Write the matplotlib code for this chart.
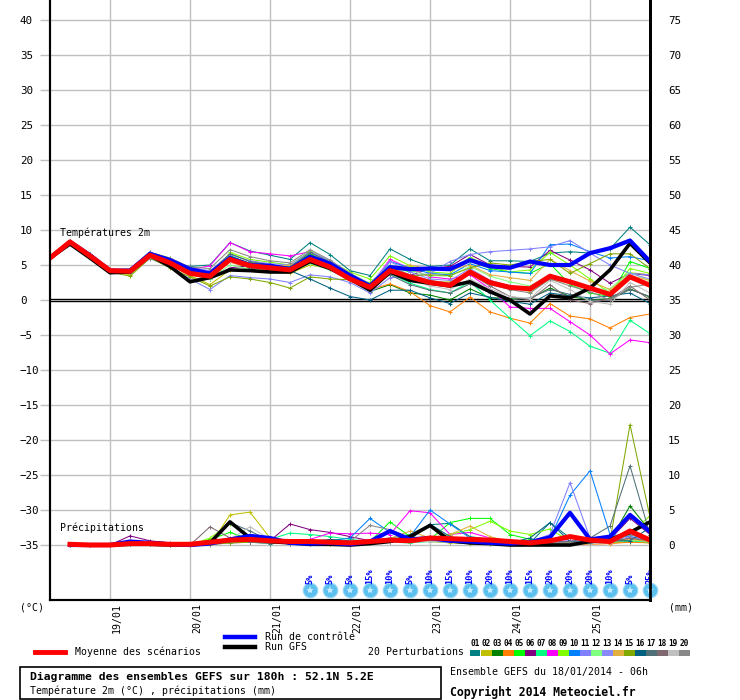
import numpy as np
import matplotlib
matplotlib.use('Agg')
import matplotlib.pyplot as plt
from matplotlib.patches import Rectangle
from matplotlib.lines import Line2D

# ---------------- data ----------------
day_labels = ["19/01", "20/01", "21/01", "22/01", "23/01", "24/01", "25/01"]
day_steps = [3, 7, 11, 15, 19, 23, 27]
steps = list(range(31))            # 6-hourly steps from 18/01 06h (180h)

mean_t = [6.0, 8.3, 6.3, 4.2, 4.1, 6.4, 5.3, 3.8, 3.4, 5.8, 4.9, 4.6, 4.3, 5.8, 4.7, 3.0,
          1.8, 4.2, 3.3, 2.5, 2.1, 4.0, 2.5, 1.8, 1.6, 3.4, 2.6, 1.7, 0.8, 3.3, 2.1]
ctrl_t = [6.0, 8.3, 6.4, 4.2, 4.2, 6.6, 5.7, 4.4, 3.8, 6.0, 5.0, 4.9, 4.4, 6.2, 5.2, 3.5,
          2.0, 4.7, 4.4, 4.5, 4.4, 5.7, 4.8, 4.6, 5.5, 5.0, 5.0, 6.7, 7.4, 8.5, 5.5]
gfs_t = [6.0, 8.0, 6.0, 3.9, 4.0, 6.4, 4.8, 2.6, 3.2, 4.3, 4.2, 4.0, 4.0, 5.5, 4.5, 3.0,
         1.4, 4.0, 2.8, 2.4, 2.0, 2.6, 1.2, 0.0, -2.0, 0.6, 0.3, 1.7, 4.3, 8.1, 5.3]

pert_colors = ["#008080", "#c0c000", "#008000", "#ff8000", "#00ff00", "#800080", "#00ff80",
               "#ff00ff", "#80ff00", "#0080ff", "#8080ff", "#80ff80", "#8888ff", "#e0b040",
               "#80a800", "#006080", "#507078", "#806870", "#c0c0c0", "#888888"]
pert_names = ["01", "02", "03", "04", "05", "06", "07", "08", "09", "10",
              "11", "12", "13", "14", "15", "16", "17", "18", "19", "20"]

p01_t = [6.0, 8.4, 6.6, 4.3, 4.4, 6.9, 5.3, 4.8, 5.0, 8.2, 7.0, 6.4, 5.8, 8.2, 6.5, 4.2, 3.5, 7.3, 5.8, 4.8, 5.0, 7.3, 5.6, 5.6, 5.5, 6.7, 6.9, 6.7, 7.3, 10.4, 7.9]
p02_t = [6.0, 8.2, 6.2, 4.1, 3.6, 6.2, 5.0, 3.5, 2.2, 4.3, 4.4, 4.0, 3.8, 5.0, 4.5, 3.2, 2.0, 3.8, 3.0, 2.5, 2.6, 3.9, 2.4, 1.8, 1.2, 3.0, 2.4, 1.7, 1.0, 3.9, 3.6]
p03_t = [6.0, 8.3, 6.5, 4.2, 4.3, 6.6, 5.8, 4.3, 3.8, 6.3, 5.2, 4.8, 4.5, 6.6, 5.0, 3.5, 1.2, 2.2, 1.0, 0.7, 0.0, 1.6, 0.3, 0.3, 0.2, 1.7, 0.5, 0.0, 0.2, 1.6, 0.4]
p04_t = [6.0, 8.3, 6.4, 4.2, 4.2, 6.5, 5.2, 3.9, 3.4, 5.4, 4.6, 4.3, 4.0, 5.3, 4.5, 3.0, 1.5, 2.3, 1.2, -0.8, -1.7, 0.4, -1.7, -2.6, -3.3, -0.5, -2.3, -2.7, -4.0, -2.5, -2.0]
p05_t = [6.0, 8.3, 6.4, 4.3, 4.2, 6.7, 5.6, 4.2, 3.8, 6.6, 5.5, 5.0, 4.8, 6.6, 5.2, 3.8, 2.3, 4.8, 4.0, 4.3, 4.4, 5.6, 4.5, 4.0, 3.8, 5.2, 2.2, 1.0, 0.5, 5.5, 4.5]
p06_t = [6.0, 8.3, 6.3, 4.2, 4.1, 6.3, 5.5, 3.8, 3.0, 4.6, 4.9, 4.6, 4.3, 5.8, 4.6, 3.2, 2.0, 4.5, 3.5, 4.5, 4.8, 6.5, 5.0, 4.8, 4.7, 7.1, 5.7, 4.3, 2.4, 3.8, 3.5]
p07_t = [6.0, 8.3, 6.3, 4.1, 4.1, 6.4, 5.5, 4.0, 3.8, 6.4, 5.0, 4.7, 4.4, 6.2, 4.6, 3.0, 1.5, 3.8, 2.4, 1.5, 1.0, 2.6, 0.0, -2.6, -5.1, -3.0, -4.5, -6.6, -7.6, -2.9, -4.8]
p08_t = [6.0, 8.3, 6.4, 4.2, 4.2, 6.6, 5.5, 4.3, 4.9, 8.2, 6.9, 6.6, 6.3, 6.9, 5.3, 3.3, 2.0, 5.8, 4.5, 3.3, 3.0, 3.6, 1.6, -1.0, -1.2, -1.2, -3.1, -5.0, -7.7, -5.7, -6.1]
p09_t = [6.0, 8.2, 6.3, 4.1, 4.0, 6.8, 6.0, 4.2, 3.2, 6.8, 5.8, 5.4, 5.0, 7.0, 5.5, 4.0, 3.0, 6.3, 4.9, 4.0, 3.8, 6.1, 4.8, 4.0, 4.3, 6.8, 5.0, 3.0, 1.0, 4.5, 3.8]
p10_t = [6.0, 8.3, 6.4, 4.2, 4.1, 6.6, 5.4, 4.4, 3.9, 6.0, 5.0, 4.8, 4.8, 6.3, 5.0, 3.4, 1.8, 5.5, 4.6, 3.8, 3.6, 5.2, 4.2, 4.0, 3.8, 7.9, 8.0, 6.9, 6.0, 6.2, 5.6]
p11_t = [6.0, 8.3, 6.2, 4.0, 3.8, 5.9, 4.8, 3.0, 1.5, 3.5, 3.2, 3.0, 2.5, 3.6, 3.3, 2.5, 1.0, 3.2, 3.3, 3.8, 5.5, 6.5, 6.9, 7.1, 7.3, 7.6, 8.5, 6.7, 5.0, 3.8, 3.6]
p12_t = [6.0, 8.3, 6.2, 4.0, 4.0, 6.2, 5.2, 3.6, 3.0, 5.0, 4.4, 4.2, 4.0, 5.2, 4.3, 3.3, 2.5, 5.0, 4.2, 3.5, 3.4, 4.8, 3.4, 2.6, 2.0, 3.6, 2.5, 1.5, 1.6, 4.0, 2.7]
p13_t = [6.0, 8.4, 6.5, 4.3, 4.3, 6.8, 5.9, 4.6, 4.2, 6.5, 5.6, 5.2, 5.0, 6.9, 5.6, 3.8, 2.3, 5.5, 4.0, 3.0, 2.8, 4.5, 2.8, 2.0, 1.5, 3.5, 2.8, 1.5, 0.8, 3.8, 3.0]
p14_t = [6.0, 8.3, 6.4, 4.2, 4.1, 6.4, 5.4, 4.0, 3.6, 5.6, 4.8, 4.8, 5.0, 5.8, 5.0, 3.6, 1.9, 4.3, 5.0, 4.4, 4.3, 5.0, 3.6, 3.2, 2.8, 5.8, 4.2, 2.7, 1.5, 3.5, 2.8]
p15_t = [6.0, 8.1, 6.1, 4.0, 3.4, 6.0, 4.6, 3.3, 2.0, 3.3, 3.0, 2.5, 1.7, 3.3, 3.0, 2.9, 2.4, 4.7, 3.5, 3.6, 3.5, 4.6, 5.3, 5.0, 5.5, 5.8, 3.8, 5.2, 6.6, 6.6, 4.5]
p16_t = [6.0, 8.3, 6.4, 4.2, 4.1, 6.3, 5.3, 4.0, 3.6, 5.6, 4.6, 4.4, 4.2, 3.0, 1.7, 0.5, 0.0, 1.4, 1.4, 0.3, -0.5, 1.0, 0.4, -0.2, -0.6, 1.0, 0.6, 0.3, 0.6, 1.0, -0.5]
p17_t = [6.0, 8.3, 6.4, 4.2, 4.1, 6.7, 5.8, 4.4, 4.0, 6.6, 5.5, 5.0, 4.7, 6.8, 5.4, 3.5, 1.6, 3.6, 2.2, 1.4, 1.0, 2.3, 1.0, 0.0, 0.3, 1.5, 0.8, 0.0, 0.0, 1.5, 0.5]
p18_t = [6.0, 8.3, 6.4, 4.2, 4.2, 6.5, 5.5, 4.1, 3.6, 5.9, 5.0, 4.8, 4.5, 6.2, 4.9, 3.3, 1.7, 4.2, 3.2, 2.5, 2.0, 3.8, 2.0, 0.5, 0.0, 2.2, 0.0, -0.5, 0.2, 2.0, 0.0]
p19_t = [6.0, 8.3, 6.4, 4.2, 4.1, 6.3, 5.2, 3.8, 3.4, 5.5, 4.7, 4.5, 4.3, 5.4, 4.5, 3.2, 2.1, 4.1, 3.0, 2.0, 1.5, 3.0, 1.6, 0.5, 0.2, 2.8, 1.5, -0.2, -0.6, 2.5, 1.0]
p20_t = [6.0, 8.4, 6.6, 4.3, 4.4, 6.8, 6.0, 4.7, 4.5, 7.2, 6.2, 5.6, 5.3, 7.2, 5.7, 3.8, 2.2, 4.8, 3.6, 2.8, 2.4, 4.2, 2.2, 1.5, 1.0, 3.0, 2.0, 1.2, 0.0, 1.8, 2.3]

# precipitation (mm per 6h), steps 1..30
mean_p = [0.1, 0.0, 0.0, 0.2, 0.2, 0.1, 0.1, 0.4, 0.7, 0.8, 0.6, 0.5, 0.5, 0.4, 0.3, 0.5, 0.7, 0.6, 1.0, 0.9, 0.8, 0.7, 0.5, 0.3, 0.6, 1.2, 0.7, 0.5, 2.0, 0.7]
ctrl_p = [0.0, 0.0, 0.0, 0.5, 0.3, 0.1, 0.0, 0.2, 0.8, 1.3, 1.0, 0.3, 0.2, 0.3, 0.1, 0.5, 2.0, 0.8, 1.0, 0.6, 0.5, 0.3, 0.2, 0.4, 1.1, 4.6, 0.8, 1.2, 4.3, 1.9]
gfs_p = [0.0, 0.0, 0.0, 0.1, 0.1, 0.0, 0.0, 0.3, 3.3, 1.0, 0.5, 0.3, 0.1, 0.1, 0.0, 0.2, 0.5, 1.2, 2.8, 0.6, 0.3, 0.2, 0.0, 0.0, 0.0, 0.0, 0.5, 0.8, 1.8, 3.3]

p01_p = [0, 0, 0, 0.3, 0.2, 0, 0, 0.3, 0.6, 0.4, 0.2, 0.3, 0.5, 0.6, 0.3, 0.5, 1.0, 1.5, 2.9, 3.1, 1.2, 0.8, 0.6, 0.3, 3.2, 1.0, 0.6, 0.5, 0.8, 0.6]
p02_p = [0, 0, 0, 0.5, 0.3, 0, 0, 0, 4.3, 4.7, 1.0, 0.3, 0.3, 0.2, 0.1, 0.3, 0.8, 0.6, 0.5, 0.3, 0.2, 0.1, 0.1, 0.1, 0.2, 0.3, 0.2, 0.3, 0.5, 0.3]
p03_p = [0, 0, 0, 0.2, 0.1, 0, 0, 0.2, 0.5, 0.8, 0.6, 0.4, 0.3, 0.2, 0.2, 0.4, 0.6, 0.4, 0.7, 0.5, 0.5, 0.4, 0.3, 0.2, 0.4, 0.5, 0.3, 0.6, 5.6, 2.0]
p04_p = [0, 0, 0, 0.1, 0.1, 0, 0, 0.1, 0.3, 0.5, 0.3, 0.2, 0.2, 0.2, 0.1, 0.3, 0.6, 0.8, 0.6, 0.4, 0.5, 0.3, 0.2, 0.1, 0.3, 0.2, 0.1, 0.2, 0.4, 0.3]
p05_p = [0, 0, 0, 0.2, 0.2, 0, 0, 0.8, 1.8, 0.8, 0.4, 0.3, 0.2, 0.2, 0.3, 0.5, 3.3, 1.2, 0.8, 3.2, 3.8, 3.8, 1.5, 0.8, 0.6, 0.4, 0.3, 0.5, 0.9, 0.6]
p06_p = [0, 0, 0, 1.3, 0.6, 0.3, 0, 0.2, 0.4, 0.5, 0.6, 3.0, 2.2, 1.8, 1.2, 0.6, 0.4, 0.5, 1.2, 0.8, 0.6, 0.4, 0.2, 0.2, 0.3, 0.5, 0.4, 0.8, 3.8, 1.5]
p07_p = [0, 0, 0, 0.2, 0.1, 0.2, 0, 0.1, 0.3, 0.6, 0.8, 1.7, 1.5, 1.2, 0.8, 0.5, 0.4, 0.3, 0.5, 0.4, 0.6, 0.4, 0.3, 0.2, 0.4, 0.3, 0.2, 0.4, 0.6, 0.4]
p08_p = [0, 0, 0, 0.1, 0.1, 0, 0, 0.1, 0.3, 0.4, 0.3, 0.3, 0.8, 1.7, 1.6, 1.7, 1.5, 4.9, 4.6, 1.5, 1.8, 1.0, 0.6, 0.3, 0.4, 0.6, 0.3, 0.4, 0.8, 0.5]
p09_p = [0, 0, 0, 0.1, 0.1, 0, 0, 1.0, 3.0, 1.2, 0.6, 0.3, 0.2, 0.3, 0.2, 0.4, 0.8, 0.6, 1.0, 1.5, 2.2, 3.4, 2.0, 1.5, 2.3, 0.5, 0.4, 0.6, 1.5, 4.2]
p10_p = [0, 0, 0, 0.3, 0.2, 0, 0, 0.1, 0.5, 0.6, 0.4, 0.2, 0.2, 0.6, 1.0, 3.8, 1.8, 1.2, 5.0, 3.0, 1.0, 0.6, 0.4, 0.5, 1.0, 7.1, 10.6, 1.5, 1.2, 0.8]
p11_p = [0, 0, 0, 0.1, 0.1, 0, 0, 0.1, 0.4, 0.5, 0.3, 0.2, 0.3, 0.4, 0.3, 0.5, 0.8, 0.5, 0.6, 0.4, 0.3, 0.3, 0.4, 0.5, 1.5, 8.9, 1.0, 0.5, 1.6, 0.6]
p12_p = [0, 0, 0, 0.2, 0.1, 0, 0, 0.1, 0.3, 0.4, 0.3, 0.2, 0.2, 0.3, 0.2, 0.3, 0.5, 0.4, 0.7, 0.5, 0.4, 0.3, 0.2, 0.2, 0.3, 0.3, 0.2, 0.4, 0.7, 0.5]
p13_p = [0, 0, 0, 0.2, 0.1, 0, 0, 0.1, 0.5, 0.7, 0.4, 0.2, 0.2, 0.3, 0.2, 0.3, 0.6, 0.5, 0.8, 0.6, 0.5, 0.4, 0.3, 0.2, 0.4, 0.6, 0.3, 0.5, 1.2, 0.6]
p14_p = [0, 0, 0, 0.6, 0.3, 0, 0, 0.1, 0.6, 0.8, 0.5, 0.4, 0.3, 0.3, 0.2, 0.4, 0.9, 2.0, 1.0, 1.5, 2.7, 1.2, 0.5, 0.3, 0.4, 0.3, 0.2, 0.4, 0.8, 0.5]
p15_p = [0, 0, 0, 0.1, 0.1, 0, 0, 0.1, 0.3, 0.4, 0.3, 0.2, 0.2, 0.2, 0.1, 0.3, 0.5, 0.4, 0.6, 0.4, 0.3, 0.2, 0.2, 0.2, 0.3, 0.4, 0.3, 0.6, 17.2, 4.0]
p16_p = [0, 0, 0, 0.1, 0.1, 0, 0, 0.2, 0.6, 0.5, 0.3, 0.3, 0.5, 0.8, 0.6, 0.4, 0.6, 0.8, 3.0, 1.2, 0.6, 0.4, 0.3, 1.0, 3.2, 0.5, 0.3, 0.6, 0.6, 2.5]
p17_p = [0, 0, 0, 0.2, 0.2, 0, 0, 0.3, 3.2, 2.0, 0.6, 0.4, 0.3, 0.3, 0.2, 0.4, 0.8, 0.6, 0.9, 0.6, 0.5, 0.4, 0.3, 0.2, 0.4, 0.5, 1.0, 2.7, 11.3, 1.5]
p18_p = [0, 0, 0, 0.2, 0.1, 0.2, 0, 2.6, 1.0, 0.5, 0.3, 0.2, 0.2, 0.2, 0.1, 0.3, 0.5, 0.4, 0.6, 0.4, 0.3, 0.3, 0.2, 0.2, 0.3, 0.4, 0.3, 0.5, 1.0, 0.6]
p19_p = [0, 0, 0, 0.1, 0.1, 0, 0, 0.1, 0.8, 2.6, 0.8, 0.3, 0.2, 0.2, 0.1, 0.3, 0.5, 0.4, 0.5, 0.4, 0.3, 0.2, 0.2, 0.2, 0.3, 0.3, 0.2, 0.3, 1.8, 0.5]
p20_p = [0, 0, 0, 0.2, 0.1, 0, 0, 0.2, 0.6, 0.8, 0.5, 0.3, 0.4, 0.6, 0.5, 2.8, 2.2, 1.0, 0.9, 0.6, 0.4, 0.3, 0.2, 0.2, 0.3, 0.4, 0.3, 0.5, 1.5, 0.6]

snow_steps = list(range(13, 31))
snow_pct = [5, 5, 5, 15, 10, 5, 10, 15, 10, 20, 10, 15, 20, 20, 20, 10, 5, 25]

pert_t = [p01_t, p02_t, p03_t, p04_t, p05_t, p06_t, p07_t, p08_t, p09_t, p10_t,
          p11_t, p12_t, p13_t, p14_t, p15_t, p16_t, p17_t, p18_t, p19_t, p20_t]
pert_p = [p01_p, p02_p, p03_p, p04_p, p05_p, p06_p, p07_p, p08_p, p09_p, p10_p,
          p11_p, p12_p, p13_p, p14_p, p15_p, p16_p, p17_p, p18_p, p19_p, p20_p]

PREC_BASE = -35.0   # 0 mm drawn at -35 on the temperature scale

# ---------------- figure ----------------
plt.rcParams['font.family'] = ['DejaVu Sans Mono', 'DejaVu Sans']
FS = 7.1
W, H = 740, 700
fig = plt.figure(figsize=(7.4, 7.0), dpi=100)
fig.patch.set_facecolor('white')
ax = fig.add_axes([50 / W, 100 / H, 600 / W, 600 / H])
ax.set_xlim(0, 30)
ylo, yhi = -300 / 7, 300 / 7
ax.set_ylim(ylo, yhi)

grid_c = '#c0c0c0'
for v in range(-35, 41, 5):
    if v != 0:
        ax.axhline(v, color=grid_c, lw=1, zorder=0)
for s in day_steps:
    ax.axvline(s, color=grid_c, lw=1, zorder=0)
ax.axhline(0.2, color='black', lw=1.0, zorder=1)
ax.axhline(-0.2, color='black', lw=1.0, zorder=1)

ax.set_xticks([])
ax.set_yticks(list(range(-35, 41, 5)))
ax.tick_params(axis='y', length=7.2, width=1, color=grid_c, direction='out',
               pad=14.4, labelsize=7.8)
for lbl in ax.get_yticklabels():
    lbl.set_ha('left')

ax2 = ax.twinx()
ax2.set_ylim(ylo + 35, yhi + 35)
ax2.set_yticks(list(range(0, 76, 5)))
ax2.tick_params(axis='y', length=0, pad=13, labelsize=7.8)
for a in (ax, ax2):
    a.spines['top'].set_visible(False)
    a.spines['left'].set_linewidth(1.5)
    a.spines['bottom'].set_linewidth(1.5)
    a.spines['right'].set_linewidth(2)

x = np.array(steps)
xp = x[1:]

# members
for c, t, p in zip(pert_colors, pert_t, pert_p):
    ax.plot(x, t, color=c, lw=0.75, marker='+', ms=3.5, mew=0.7, zorder=2)
    ax.plot(xp, PREC_BASE + np.array(p), color=c, lw=0.75, marker='+', ms=3.5, mew=0.7, zorder=2)

ax.plot(x, gfs_t, color='black', lw=2.6, zorder=3)
ax.plot(xp, PREC_BASE + np.array(gfs_p), color='black', lw=2.6, zorder=3)
ax.plot(x, ctrl_t, color='#0000ff', lw=3.0, zorder=4)
ax.plot(xp, PREC_BASE + np.array(ctrl_p), color='#0000ff', lw=3.0, zorder=4)
ax.plot(x, mean_t, color='#ff0000', lw=3.6, zorder=5)
ax.plot(xp, PREC_BASE + np.array(mean_p), color='#ff0000', lw=3.6, zorder=5)

ax.text(0.5, 9.6, "Températures 2m", fontsize=FS, va='center', ha='left', zorder=6)
ax.text(0.5, -32.6, "Précipitations", fontsize=FS, va='center', ha='left', zorder=6)

# snow probability icons
for s, pct in zip(snow_steps, snow_pct):
    ax.plot([s], [-41.45], 'o', ms=10.5, color='#5cc0ee', mec='#9ad8f4', mew=0.8,
            clip_on=False, zorder=6)
    ax.plot([s], [-41.45], marker='*', ms=6, color='#c8ecff', mew=0, clip_on=False, zorder=7)
    ax.text(s, -40.5, f"{pct}%", rotation=90, fontsize=6.2, color='#0000ff',
            ha='center', va='bottom', clip_on=False, zorder=7, fontweight='bold')

# date labels
for s, lab in zip(day_steps, day_labels):
    ax.text(s + 0.35, ylo - 0.45, lab, rotation=90, fontsize=FS, ha='center', va='top',
            clip_on=False)


def ft(xp_, yp_, s, **kw):
    fig.text(xp_ / W, 1 - yp_ / H, s, **kw)


ft(20, 607, "(°C)", fontsize=FS, va='center', ha='left')
ft(669, 607, "(mm)", fontsize=FS, va='center', ha='left')

# legend
fig.add_artist(Line2D([35 / W, 65 / W], [1 - 652 / H] * 2, color='#ff0000', lw=3.5))
ft(75, 652, "Moyenne des scénarios", fontsize=FS, va='center', ha='left')
fig.add_artist(Line2D([225 / W, 255 / W], [1 - 637 / H] * 2, color='#0000ff', lw=3.2))
ft(265, 637, "Run de contrôle", fontsize=FS, va='center', ha='left')
fig.add_artist(Line2D([225 / W, 255 / W], [1 - 647 / H] * 2, color='black', lw=3.2))
ft(265, 647, "Run GFS", fontsize=FS, va='center', ha='left')
ft(368, 652, "20 Perturbations", fontsize=FS, va='center', ha='left')

for k, (c, nm) in enumerate(zip(pert_colors, pert_names)):
    x0 = 470 + 11 * k
    fig.add_artist(Rectangle((x0 / W, 1 - 656 / H), 10.5 / W, 6.5 / H,
                             transform=fig.transFigure, color=c, lw=0))
    ft(x0 + 5.2, 644, nm, fontsize=5.6, va='center', ha='center', fontweight='bold')

# title box
fig.add_artist(Rectangle((20 / W, 1 - 699 / H), 421 / W, 32 / H, transform=fig.transFigure,
                         fill=False, ec='black', lw=1.2))
ft(30, 677, "Diagramme des ensembles GEFS sur 180h : 52.1N 5.2E", fontsize=8.2,
   fontweight='bold', va='center', ha='left')
ft(30, 691, "Température 2m (°C) , précipitations (mm)", fontsize=FS, va='center', ha='left')
ft(450, 672, "Ensemble GEFS du 18/01/2014 - 06h", fontsize=FS, va='center', ha='left')
ft(450, 692, "Copyright 2014 Meteociel.fr", fontsize=8.3, fontweight='bold',
   va='center', ha='left')

fig.savefig('out.png', dpi=100, facecolor='white')
